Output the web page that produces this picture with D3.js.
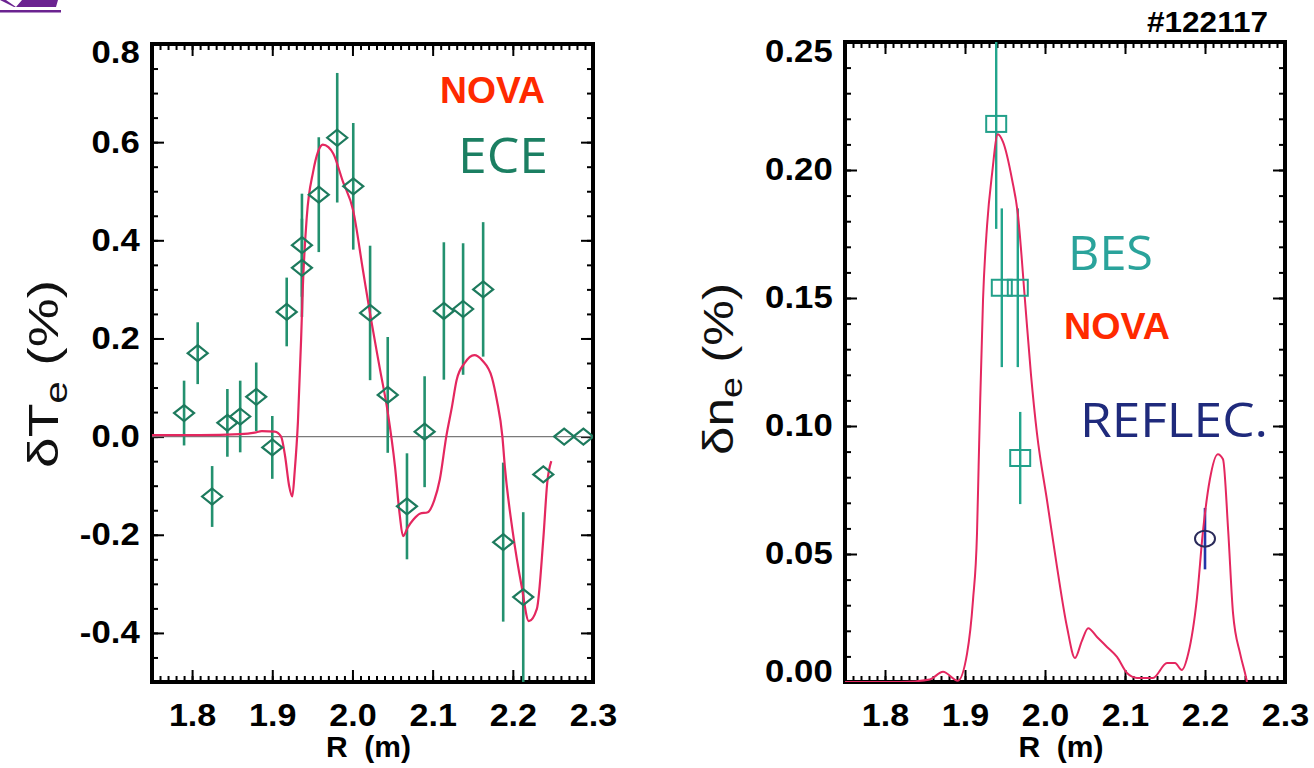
<!DOCTYPE html>
<html>
<head>
<meta charset="utf-8">
<script src="https://cdn.jsdelivr.net/npm/d3@7"></script>
<style>
  body { margin: 0; background: #fff; }
  svg { display: block; }
</style>
</head>
<body>
<svg id="fig" width="1314" height="768"></svg>
<script>
// ---- shared R axis ----
const rTicks = [1.8, 1.9, 2.0, 2.1, 2.2, 2.3];

// ---- electron temperature fluctuation (left) ----
const teTicks = [-0.4, -0.2, 0.0, 0.2, 0.4, 0.6, 0.8];
const eceR   = [1.790, 1.807, 1.825, 1.844, 1.860, 1.880, 1.900, 1.918, 1.937, 1.937, 1.958, 1.981, 2.001,
                2.022, 2.044, 2.068, 2.090, 2.114, 2.138, 2.163, 2.188, 2.213, 2.238, 2.264, 2.288];
const eceVal = [0.048, 0.170, -0.122, 0.028, 0.041, 0.081, -0.022, 0.254, 0.344, 0.390, 0.493, 0.609, 0.510,
                0.252, 0.085, -0.142, 0.010, 0.256, 0.260, 0.300, -0.215, -0.327, -0.077, 0.000, 0.000];
const eceErr = [0.066, 0.063, 0.062, 0.069, 0.073, 0.070, 0.064, 0.070, 0.100, 0.105, 0.117, 0.132, 0.129,
                0.137, 0.118, 0.108, 0.113, 0.140, 0.134, 0.137, 0.162, 0.173, 0, 0, 0];
const novaTeR   = [1.750, 1.810, 1.860, 1.878, 1.887, 1.903, 1.911, 1.916, 1.921, 1.925, 1.928, 1.932, 1.936,
                   1.938, 1.943, 1.951, 1.957, 1.963, 1.970, 1.976, 1.988, 2.001, 2.013, 2.022, 2.034, 2.044,
                   2.053, 2.059, 2.063, 2.069, 2.076, 2.084, 2.094, 2.102, 2.109, 2.117, 2.124, 2.130, 2.140,
                   2.152, 2.162, 2.174, 2.180, 2.187, 2.190, 2.200, 2.211, 2.220, 2.230, 2.238, 2.243, 2.248];
const novaTeVal = [0.003, 0.003, 0.005, 0.008, 0.011, 0.010, 0.000, -0.040, -0.100, -0.122, -0.070, 0.030, 0.200,
                   0.300, 0.447, 0.540, 0.580, 0.595, 0.590, 0.577, 0.520, 0.460, 0.340, 0.250, 0.140, 0.050,
                   -0.060, -0.160, -0.203, -0.185, -0.169, -0.157, -0.154, -0.130, -0.087, 0.000, 0.060, 0.116, 0.150,
                   0.166, 0.155, 0.120, 0.075, 0.000, -0.060, -0.195, -0.305, -0.376, -0.351, -0.209, -0.093, -0.050];

// ---- electron density fluctuation (right) ----
const neTicks = [0.00, 0.05, 0.10, 0.15, 0.20, 0.25];
const besR   = [1.939, 1.946, 1.966, 1.969];
const besVal = [0.218, 0.154, 0.154, 0.0875];
const besErr = [0.041, 0.031, 0.031, 0.018];
const reflecR   = [2.200];
const reflecVal = [0.056];
const reflecErr = [0.012];
const novaNeR   = [1.750, 1.819, 1.856, 1.8725, 1.891, 1.9025, 1.910, 1.915, 1.917, 1.919, 1.9225, 1.9275, 1.934,
                   1.941, 1.9475, 1.959, 1.966, 1.975, 1.9825, 1.990, 2.0025, 2.015, 2.0275, 2.0375, 2.046, 2.054,
                   2.065, 2.0775, 2.090, 2.1025, 2.115, 2.135, 2.1525, 2.1625, 2.171, 2.179, 2.190, 2.1975, 2.206,
                   2.216, 2.2225, 2.229, 2.235, 2.244, 2.250, 2.2525];
const novaNeVal = [0.000, 0.000, 0.001, 0.004, 0.0005, 0.011, 0.032, 0.058, 0.084, 0.110, 0.149, 0.178, 0.199,
                   0.214, 0.211, 0.196, 0.183, 0.149, 0.120, 0.097, 0.071, 0.045, 0.0215, 0.0094, 0.016, 0.021,
                   0.0176, 0.0137, 0.0098, 0.0035, 0.0016, 0.0016, 0.0074, 0.0074, 0.0047, 0.011, 0.033, 0.059, 0.079,
                   0.089, 0.087, 0.059, 0.027, 0.011, 0.0035, 0.000];

const FONT = "'Liberation Sans', Arial, Helvetica, sans-serif";
const LABEL_FONT = "'Open Sans', 'Noto Sans', sans-serif";
const NOVA_RED = "#ff2a00";
const CURVE = "#e4275f";

const svg = d3.select("#fig");

// corner logo fragment
svg.append("path").attr("d", "M0,0 L6,0 L16,7 L22,0 L58,0 L56,7 L20,7 L14,7 Z").attr("fill", "#6b2390");
svg.append("rect").attr("x", 0).attr("y", 10).attr("width", 61).attr("height", 2.5).attr("fill", "#6b2390");

// shot number
svg.append("text").attr("x", 1147).attr("y", 32)
  .attr("textLength", 121).attr("lengthAdjust", "spacingAndGlyphs")
  .attr("font-family", FONT).attr("font-weight", "bold").attr("font-size", 30).text("#122117");

function makePanel(o) {
  const g = svg.append("g");
  const x = d3.scaleLinear().domain([1.75, 2.3]).range([o.x0, o.x1]);
  const y = d3.scaleLinear().domain(o.yDomain).range([o.y1, o.y0]);

  const clipId = "clip-" + o.id;
  g.append("clipPath").attr("id", clipId).append("rect")
    .attr("x", o.x0).attr("y", o.y0).attr("width", o.x1 - o.x0).attr("height", o.y1 - o.y0);

  const minorX = d3.range(175, 231).map(i => i / 100);
  const minorY = d3.range(Math.round(o.yDomain[0] / o.yMinor), Math.round(o.yDomain[1] / o.yMinor) + 1)
    .map(i => +(i * o.yMinor).toFixed(4));

  function styleAxis(sel) {
    sel.select(".domain").remove();
    sel.selectAll(".tick line").attr("stroke", "#000").attr("stroke-width", 2);
    sel.selectAll(".tick text").attr("font-family", FONT).attr("font-weight", "bold")
      .attr("font-size", 31).attr("fill", "#000");
  }

  // bottom
  g.append("g").attr("transform", `translate(0,${o.y1})`)
    .call(d3.axisBottom(x).tickValues(minorX).tickSize(-6).tickFormat("")).call(styleAxis);
  const xb = g.append("g").attr("transform", `translate(0,${o.y1})`)
    .call(d3.axisBottom(x).tickValues(rTicks).tickSize(-12).tickPadding(22).tickFormat(d => d.toFixed(1)))
    .call(styleAxis);
  xb.selectAll(".tick text").attr("transform", "scale(1.1,1)");
  // top
  g.append("g").attr("transform", `translate(0,${o.y0})`)
    .call(d3.axisTop(x).tickValues(minorX).tickSize(-6).tickFormat("")).call(styleAxis);
  g.append("g").attr("transform", `translate(0,${o.y0})`)
    .call(d3.axisTop(x).tickValues(rTicks).tickSize(-12).tickFormat("")).call(styleAxis);
  // left
  g.append("g").attr("transform", `translate(${o.x0},0)`)
    .call(d3.axisLeft(y).tickValues(minorY).tickSize(-6).tickFormat("")).call(styleAxis);
  const yl = g.append("g").attr("transform", `translate(${o.x0},0)`)
    .call(d3.axisLeft(y).tickValues(o.yTicks).tickSize(-12).tickPadding(11).tickFormat(o.fmt))
    .call(styleAxis);
  yl.selectAll(".tick text").attr("transform", d => `translate(0,${o.nudge(d)}) scale(1.12,1)`);
  // right
  g.append("g").attr("transform", `translate(${o.x1},0)`)
    .call(d3.axisRight(y).tickValues(minorY).tickSize(-6).tickFormat("")).call(styleAxis);
  g.append("g").attr("transform", `translate(${o.x1},0)`)
    .call(d3.axisRight(y).tickValues(o.yTicks).tickSize(-12).tickFormat("")).call(styleAxis);

  // frame
  g.append("rect").attr("x", o.x0).attr("y", o.y0).attr("width", o.x1 - o.x0).attr("height", o.y1 - o.y0)
    .attr("fill", "none").attr("stroke", "#000").attr("stroke-width", 4);

  // x title
  g.append("text").attr("x", (o.x0 + o.x1) / 2 - 4).attr("y", 757).attr("text-anchor", "middle")
    .attr("font-family", FONT).attr("font-weight", "bold").attr("font-size", 30)
    .attr("xml:space", "preserve").text("R  (m)");

  // y title: glyphs stretched along the text direction to span titleLen
  const yt = g.append("text").attr("text-anchor", "middle")
    .attr("font-family", FONT).attr("font-size", 42).attr("fill", "#111");
  yt.append("tspan").text(o.titleMain);
  yt.append("tspan").attr("font-size", 31).attr("dy", 9).text("e");
  yt.append("tspan").attr("dy", -9).text(" (%)");
  const natural = yt.node().getComputedTextLength();
  const sx = o.titleLen / natural;
  yt.attr("transform", `translate(${o.titleX},${o.titleY}) rotate(-90) scale(${sx},1)`);

  const plot = g.append("g").attr("clip-path", `url(#${clipId})`);
  return { g, plot, x, y };
}

// ---- left panel ----
const L = makePanel({
  id: "te", x0: 152, x1: 593, y0: 44, y1: 682, yDomain: [-0.5, 0.8], yTicks: teTicks, yMinor: 0.05,
  fmt: d => d.toFixed(1), nudge: d => (d === 0.8 ? 9 : 0),
  titleX: 58, titleY: 374, titleLen: 188, titleMain: "\u03b4T"
});

// zero reference line
L.plot.append("line").attr("x1", L.x(1.75)).attr("x2", L.x(2.3)).attr("y1", L.y(0)).attr("y2", L.y(0))
  .attr("stroke", "#7a7a7a").attr("stroke-width", 1.2);

const ece = eceR.map((r, i) => ({ r, v: eceVal[i], e: eceErr[i] }));
L.plot.selectAll(".eb").data(ece.filter(d => d.e > 0)).join("line")
  .attr("x1", d => L.x(d.r)).attr("x2", d => L.x(d.r))
  .attr("y1", d => L.y(d.v - d.e)).attr("y2", d => L.y(d.v + d.e))
  .attr("stroke", "#23916f").attr("stroke-width", 2.6);

L.plot.append("path").datum(novaTeR.map((r, i) => [r, novaTeVal[i]]))
  .attr("d", d3.line().x(d => L.x(d[0])).y(d => L.y(d[1])).curve(d3.curveMonotoneX))
  .attr("fill", "none").attr("stroke", CURVE).attr("stroke-width", 2.2);

L.plot.selectAll(".dm").data(ece).join("path")
  .attr("transform", d => `translate(${L.x(d.r)},${L.y(d.v)})`)
  .attr("d", "M0,-8 L10,0 L0,8 L-10,0 Z")
  .attr("fill", "none").attr("stroke", "#1d7a5d").attr("stroke-width", 2.2);

svg.append("text").attr("x", 440).attr("y", 103).attr("font-family", FONT).attr("font-weight", "bold")
  .attr("font-size", 36).attr("fill", NOVA_RED)
  .attr("textLength", 105).attr("lengthAdjust", "spacingAndGlyphs").text("NOVA");
svg.append("text").attr("x", 458).attr("y", 173).attr("font-family", LABEL_FONT)
  .attr("font-size", 50).attr("fill", "#1b7f62")
  .attr("textLength", 90).attr("lengthAdjust", "spacingAndGlyphs").text("ECE");

// ---- right panel ----
const R = makePanel({
  id: "ne", x0: 845, x1: 1285, y0: 42, y1: 682, yDomain: [0, 0.25], yTicks: neTicks, yMinor: 0.01,
  fmt: d => d.toFixed(2), nudge: d => (d === 0.25 ? 10 : (d === 0 ? -10 : 0)),
  titleX: 733, titleY: 369, titleLen: 172, titleMain: "\u03b4n"
});

const bes = besR.map((r, i) => ({ r, v: besVal[i], e: besErr[i] }));
R.plot.selectAll(".eb").data(bes).join("line")
  .attr("x1", d => R.x(d.r)).attr("x2", d => R.x(d.r))
  .attr("y1", d => R.y(d.v - d.e)).attr("y2", d => R.y(d.v + d.e))
  .attr("stroke", "#22a58c").attr("stroke-width", 2.4);

const refl = reflecR.map((r, i) => ({ r, v: reflecVal[i], e: reflecErr[i] }));
R.plot.selectAll(".rb").data(refl).join("line")
  .attr("x1", d => R.x(d.r)).attr("x2", d => R.x(d.r))
  .attr("y1", d => R.y(d.v - d.e)).attr("y2", d => R.y(d.v + d.e))
  .attr("stroke", "#2335a8").attr("stroke-width", 2.6);

R.plot.append("path").datum(novaNeR.map((r, i) => [r, novaNeVal[i]]))
  .attr("d", d3.line().x(d => R.x(d[0])).y(d => R.y(d[1])).curve(d3.curveMonotoneX))
  .attr("fill", "none").attr("stroke", CURVE).attr("stroke-width", 2);

R.plot.selectAll(".sq").data(bes).join("rect")
  .attr("x", d => R.x(d.r) - 10).attr("y", d => R.y(d.v) - 8).attr("width", 20).attr("height", 16)
  .attr("fill", "none").attr("stroke", "#22a08a").attr("stroke-width", 2);

R.plot.selectAll(".ci").data(refl).join("ellipse")
  .attr("cx", d => R.x(d.r)).attr("cy", d => R.y(d.v)).attr("rx", 10).attr("ry", 8)
  .attr("fill", "none").attr("stroke", "#2a2a5a").attr("stroke-width", 2);

svg.append("text").attr("x", 1068).attr("y", 270).attr("font-family", LABEL_FONT)
  .attr("font-size", 48).attr("fill", "#2aa39b")
  .attr("textLength", 85).attr("lengthAdjust", "spacingAndGlyphs").text("BES");
svg.append("text").attr("x", 1064).attr("y", 339).attr("font-family", FONT).attr("font-weight", "bold")
  .attr("font-size", 36).attr("fill", NOVA_RED)
  .attr("textLength", 106).attr("lengthAdjust", "spacingAndGlyphs").text("NOVA");
svg.append("text").attr("x", 1080).attr("y", 437).attr("font-family", LABEL_FONT)
  .attr("font-size", 48).attr("fill", "#1f2a7c")
  .attr("textLength", 188).attr("lengthAdjust", "spacingAndGlyphs").text("REFLEC.");
</script>
</body>
</html>
